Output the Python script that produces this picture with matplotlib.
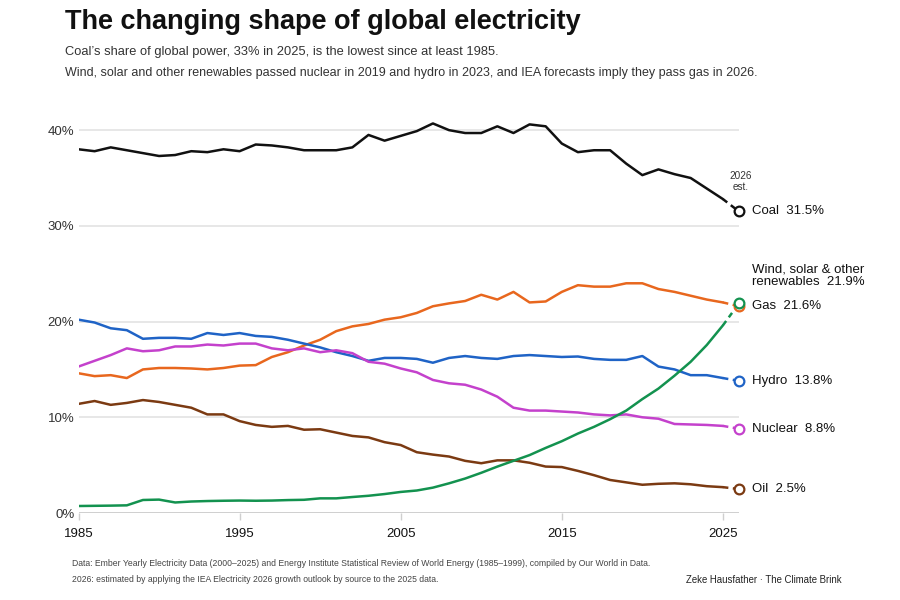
import matplotlib
matplotlib.use("Agg")
import matplotlib.pyplot as plt
import numpy as np

plt.rcParams['font.family'] = ['Liberation Sans', 'DejaVu Sans']

years = list(range(1985, 2026))
est_year = 2026

coal = [38.0, 37.8, 38.2, 37.9, 37.6, 37.3, 37.4, 37.8, 37.7, 38.0,
        37.8, 38.5, 38.4, 38.2, 37.9, 37.9, 37.9, 38.2, 39.5, 38.9,
        39.4, 39.9, 40.7, 40.0, 39.7, 39.7, 40.4, 39.7, 40.6, 40.4,
        38.6, 37.7, 37.9, 37.9, 36.5, 35.3, 35.9, 35.4, 35.0, 33.9,
        32.8]
gas = [14.6, 14.3, 14.4, 14.1, 15.0, 15.15, 15.15, 15.1, 15.0, 15.15,
       15.4, 15.45, 16.3, 16.8, 17.5, 18.1, 19.0, 19.5, 19.75, 20.2,
       20.45, 20.9, 21.6, 21.9, 22.15, 22.8, 22.3, 23.1, 22.0, 22.1,
       23.1, 23.8, 23.65, 23.65, 24.0, 24.0, 23.4, 23.1, 22.7, 22.3,
       22.0]
hydro = [20.2, 19.9, 19.3, 19.1, 18.2, 18.3, 18.3, 18.2, 18.8, 18.6,
         18.8, 18.5, 18.4, 18.1, 17.7, 17.3, 16.8, 16.4, 15.9, 16.2,
         16.2, 16.1, 15.7, 16.2, 16.4, 16.2, 16.1, 16.4, 16.5, 16.4,
         16.3, 16.35, 16.1, 16.0, 16.0, 16.4, 15.3, 15.0, 14.4, 14.4,
         14.1]
nuclear = [15.3, 15.9, 16.5, 17.2, 16.9, 17.0, 17.4, 17.4, 17.6, 17.5,
           17.7, 17.7, 17.2, 17.0, 17.2, 16.8, 17.0, 16.7, 15.8, 15.6,
           15.1, 14.7, 13.9, 13.55, 13.4, 12.9, 12.15, 11.0, 10.7, 10.7,
           10.6, 10.5, 10.3, 10.2, 10.3, 10.0, 9.85, 9.3, 9.25, 9.2,
           9.1]
oil = [11.4, 11.7, 11.3, 11.5, 11.8, 11.6, 11.3, 11.0, 10.3, 10.3,
       9.6, 9.2, 9.0, 9.1, 8.7, 8.75, 8.4, 8.05, 7.9, 7.4,
       7.1, 6.35, 6.1, 5.9, 5.45, 5.2, 5.5, 5.5, 5.25, 4.85,
       4.8, 4.4, 3.95, 3.45, 3.2, 2.95, 3.05, 3.1, 3.0, 2.8,
       2.7]
renewables = [0.73, 0.75, 0.77, 0.8, 1.36, 1.4, 1.1, 1.2, 1.25, 1.28,
              1.3, 1.28, 1.3, 1.35, 1.38, 1.53, 1.53, 1.67, 1.8, 1.98,
              2.2, 2.35, 2.65, 3.1, 3.6, 4.2, 4.85, 5.45, 6.05, 6.8,
              7.5, 8.3, 9.0, 9.8, 10.7, 11.9, 13.0, 14.35, 15.8, 17.55,
              19.6]

est_2026 = {"Coal": 31.5, "Gas": 21.6, "Hydro": 13.8, "Nuclear": 8.8,
            "Oil": 2.5, "Renewables": 21.9}

series = [
    ("Coal", coal, "#111111"),
    ("Gas", gas, "#E8671E"),
    ("Hydro", hydro, "#1F63C6"),
    ("Nuclear", nuclear, "#C441CC"),
    ("Oil", oil, "#7B3A12"),
    ("Renewables", renewables, "#13924F"),
]

labels = {"Coal": "Coal  31.5%", "Gas": "Gas  21.6%", "Hydro": "Hydro  13.8%",
          "Nuclear": "Nuclear  8.8%", "Oil": "Oil  2.5%",
          "Renewables": "Wind, solar & other\nrenewables  21.9%"}

yticks = [0, 10, 20, 30, 40]
ytick_labels = ["0%", "10%", "20%", "30%", "40%"]
xticks = [1985, 1995, 2005, 2015, 2025]

fig = plt.figure(figsize=(9, 6), dpi=100)
ax = fig.add_axes([78.5/900, 1-513/600, (739-78.5)/900, (513-111)/600])
ax.set_xlim(1985, 2026)
ax.set_ylim(0, 42)

for v in yticks[1:]:
    ax.axhline(v, color="#e3e3e3", lw=1.2, zorder=1)
ax.axhline(0, color="#cfcfcf", lw=1.4, zorder=1)

for name, vals, col in series:
    ax.plot(years, vals, color=col, lw=1.8, zorder=3, solid_joinstyle="round",
            solid_capstyle="round")
    ax.plot([years[-1], est_year], [vals[-1], est_2026[name]], color=col, lw=1.8,
            linestyle=(0, (2.2, 1.8)), zorder=3, clip_on=False)
    ax.plot([est_year], [est_2026[name]], marker="o", ms=7, mfc="white",
            mec=col, mew=1.6, zorder=4, clip_on=False)

# Right-hand labels
lab_x = 2026.8
for name in ["Coal", "Gas", "Hydro", "Nuclear", "Oil"]:
    ax.text(lab_x, est_2026[name], labels[name], fontsize=9.5, va="center",
            ha="left", color="#111")
ax.text(lab_x, 24.8, labels["Renewables"], fontsize=9.5,
        va="center", ha="left", color="#111", linespacing=1.05)
ax.text(2026.1, 34.6, "2026\nest.", fontsize=7.2, va="center", ha="center",
        color="#333", linespacing=1.1)

for s in ax.spines.values():
    s.set_visible(False)
ax.set_yticks(yticks)
ax.set_yticklabels(ytick_labels, fontsize=9.5, color="#333")
ax.tick_params(axis="y", length=0, pad=3)
ax.set_xticks(xticks)
ax.set_xticklabels([str(x) for x in xticks], fontsize=9.5, color="#111")
ax.tick_params(axis="x", length=5, width=1, color="#cfcfcf", pad=6)

fig.text(65/900, 1-22/600, "The changing shape of global electricity",
         fontsize=19.5, fontweight="bold", va="center", ha="left", color="#111")
fig.text(65/900, 1-52/600,
         "Coal\u2019s share of global power, 33% in 2025, is the lowest since at least 1985.",
         fontsize=9.3, va="center", ha="left", color="#333")
fig.text(65/900, 1-73/600,
         "Wind, solar and other renewables passed nuclear in 2019 and hydro in 2023, and IEA forecasts imply they pass gas in 2026.",
         fontsize=9.0, va="center", ha="left", color="#333")
fig.text(72/900, 1-563/600,
         "Data: Ember Yearly Electricity Data (2000\u20132025) and Energy Institute Statistical Review of World Energy (1985\u20131999), compiled by Our World in Data.",
         fontsize=6.2, va="center", ha="left", color="#444")
fig.text(72/900, 1-580/600,
         "2026: estimated by applying the IEA Electricity 2026 growth outlook by source to the 2025 data.",
         fontsize=6.2, va="center", ha="left", color="#444")
fig.text(842/900, 1-580/600, "Zeke Hausfather \u00b7 The Climate Brink",
         fontsize=6.9, va="center", ha="right", color="#222")

fig.savefig("out.png", dpi=100, facecolor="white")
